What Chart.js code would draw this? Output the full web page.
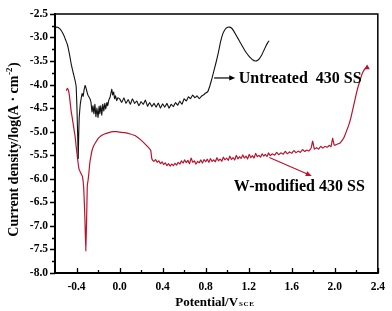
<!DOCTYPE html>
<html>
<head>
<meta charset="utf-8">
<script src="https://cdn.jsdelivr.net/npm/chart.js@4"></script>
<style>
  html, body { margin: 0; padding: 0; background: #fff; }
  canvas { display: block; }
</style>
</head>
<body>
<canvas id="chart" width="392" height="311"></canvas>
<script>
// Polarization curves (potential in V vs SCE, log current density)
const untreatedPotential = [
  -0.600, -0.585, -0.570, -0.550, -0.530, -0.513, -0.500, -0.485, -0.475, -0.467,
  -0.458, -0.449, -0.440, -0.430, -0.421, -0.412, -0.403, -0.396, -0.388, -0.384,
  -0.380, -0.375, -0.366, -0.357, -0.348, -0.339, -0.330, -0.320, -0.311, -0.302,
  -0.293, -0.275, -0.266, -0.256, -0.247, -0.238, -0.229, -0.220, -0.210, -0.200,
  -0.190, -0.183, -0.174, -0.165, -0.156, -0.146, -0.137, -0.128, -0.118, -0.110,
  -0.100, -0.090, -0.080, -0.072, -0.064, -0.055, -0.046, -0.037, -0.027, -0.015,
  0.00, 0.02, 0.04, 0.06, 0.08, 0.10, 0.12, 0.14, 0.16, 0.18,
  0.20, 0.22, 0.24, 0.26, 0.28, 0.30, 0.32, 0.34, 0.36, 0.38,
  0.40, 0.42, 0.44, 0.46, 0.48, 0.50, 0.52, 0.54, 0.56, 0.58,
  0.60, 0.62, 0.64, 0.66, 0.68, 0.70, 0.72, 0.74, 0.76, 0.78,
  0.80, 0.82, 0.84, 0.86, 0.88, 0.90, 0.92, 0.94, 0.96, 0.98,
  1.00, 1.02, 1.04, 1.06, 1.08, 1.10, 1.12, 1.14, 1.16, 1.18,
  1.20, 1.22, 1.24, 1.26, 1.28, 1.30, 1.32, 1.34, 1.36, 1.38, 1.39
];
const untreatedDensity = [
  -2.80, -2.78, -2.79, -2.83, -2.90, -2.98, -3.06, -3.15, -3.25, -3.34,
  -3.45, -3.57, -3.66, -3.76, -3.84, -3.93, -4.05, -4.50, -5.20, -5.57,
  -5.10, -4.70, -4.44, -4.30, -4.19, -4.25, -4.12, -4.02, -4.08, -4.16,
  -4.23, -4.30, -4.37, -4.58, -4.45, -4.62, -4.42, -4.68, -4.50, -4.70,
  -4.46, -4.62, -4.45, -4.65, -4.42, -4.56, -4.40, -4.52, -4.38, -4.45,
  -4.33, -4.28, -4.18, -4.10, -4.22, -4.16, -4.30, -4.24, -4.34, -4.28,
  -4.30, -4.38, -4.28, -4.40, -4.32, -4.42, -4.30, -4.40, -4.35, -4.45,
  -4.36, -4.42, -4.33, -4.46, -4.38, -4.47, -4.40, -4.48, -4.39, -4.50,
  -4.41, -4.48, -4.40, -4.50, -4.42, -4.47, -4.38, -4.44, -4.35, -4.42,
  -4.30, -4.35, -4.26, -4.30, -4.22, -4.28, -4.24, -4.30, -4.25, -4.22,
  -4.18, -4.15, -4.02, -3.86, -3.68, -3.50, -3.30, -3.08, -2.92, -2.83,
  -2.79, -2.78, -2.80, -2.86, -2.94, -3.02, -3.10, -3.18, -3.26, -3.33,
  -3.39, -3.44, -3.48, -3.50, -3.49, -3.45, -3.38, -3.28, -3.18, -3.10, -3.07
];

const modifiedPotential = [
  -0.495, -0.485, -0.475, -0.467, -0.458, -0.449, -0.440, -0.430, -0.421, -0.412,
  -0.403, -0.394, -0.385, -0.376, -0.360, -0.345, -0.333, -0.322, -0.314, -0.306,
  -0.300, -0.292, -0.284, -0.277, -0.266, -0.256, -0.240, -0.220, -0.200, -0.174,
  -0.140, -0.100, -0.060, -0.030, 0.000, 0.050, 0.100, 0.150, 0.200, 0.240,
  0.270, 0.290, 0.298, 0.305, 0.320, 0.335, 0.350, 0.365, 0.380, 0.395,
  0.410, 0.425, 0.440, 0.455, 0.470, 0.485, 0.500, 0.515, 0.530, 0.545,
  0.560, 0.575, 0.590, 0.605, 0.620, 0.635, 0.650, 0.665, 0.680, 0.695,
  0.710, 0.725, 0.740, 0.755, 0.770, 0.785, 0.800, 0.815, 0.830, 0.845,
  0.860, 0.875, 0.890, 0.905, 0.920, 0.935, 0.950, 0.965, 0.980, 0.995,
  1.010, 1.025, 1.040, 1.055, 1.070, 1.085, 1.100, 1.115, 1.130, 1.145,
  1.160, 1.175, 1.190, 1.205, 1.220, 1.235, 1.250, 1.265, 1.280, 1.295,
  1.310, 1.325, 1.340, 1.355, 1.370, 1.385, 1.400, 1.420, 1.440, 1.460,
  1.480, 1.500, 1.520, 1.540, 1.560, 1.580, 1.600, 1.620, 1.640, 1.660,
  1.680, 1.700, 1.720, 1.740, 1.760, 1.780, 1.795, 1.810, 1.830, 1.850,
  1.870, 1.890, 1.910, 1.930, 1.950, 1.965, 1.980, 1.995, 2.010, 2.030,
  2.050, 2.070, 2.090, 2.110, 2.130, 2.150, 2.170, 2.190, 2.210, 2.230,
  2.250, 2.270, 2.290, 2.300
];
const modifiedDensity = [
  -4.13, -4.08, -4.12, -4.22, -4.40, -4.58, -4.70, -4.85, -4.99, -5.12,
  -5.32, -5.50, -5.67, -5.80, -5.88, -5.95, -6.20, -6.85, -7.53, -6.85,
  -6.15, -6.02, -5.85, -5.67, -5.52, -5.40, -5.30, -5.22, -5.15, -5.09,
  -5.05, -5.02, -5.00, -5.00, -5.01, -5.02, -5.05, -5.09, -5.18, -5.27,
  -5.34, -5.40, -5.55, -5.60, -5.63, -5.59, -5.65, -5.62, -5.68, -5.64,
  -5.70, -5.66, -5.72, -5.68, -5.73, -5.69, -5.72, -5.67, -5.71, -5.65,
  -5.69, -5.62, -5.67, -5.60, -5.66, -5.61, -5.68, -5.56, -5.65, -5.62,
  -5.69, -5.63, -5.66, -5.60, -5.67, -5.59, -5.64, -5.58, -5.65, -5.57,
  -5.63, -5.60, -5.64, -5.55, -5.62, -5.58, -5.63, -5.54, -5.60, -5.56,
  -5.61, -5.52, -5.59, -5.55, -5.60, -5.50, -5.58, -5.53, -5.57, -5.49,
  -5.56, -5.52, -5.58, -5.48, -5.55, -5.51, -5.56, -5.46, -5.53, -5.50,
  -5.54, -5.47, -5.52, -5.48, -5.53, -5.45, -5.51, -5.47, -5.50, -5.44,
  -5.49, -5.45, -5.48, -5.42, -5.47, -5.43, -5.46, -5.40, -5.45, -5.41,
  -5.44, -5.38, -5.42, -5.39, -5.41, -5.35, -5.20, -5.37, -5.34, -5.37,
  -5.31, -5.35, -5.31, -5.33, -5.29, -5.32, -5.14, -5.29, -5.28, -5.26,
  -5.24, -5.18, -5.10, -4.98, -4.86, -4.70, -4.50, -4.30, -4.10, -3.95,
  -3.80, -3.70, -3.65, -3.64
];

const xTickValues = [-0.4, 0.0, 0.4, 0.8, 1.2, 1.6, 2.0, 2.4];
const yTickValues = [-8.0, -7.5, -7.0, -6.5, -6.0, -5.5, -5.0, -4.5, -4.0, -3.5, -3.0, -2.5];

const SERIF = '"Liberation Serif", "Times New Roman", serif';
const RED = '#b8142e';

function toPoints(xs, ys) {
  return xs.map((x, i) => ({ x: x, y: ys[i] }));
}

function drawArrow(ctx, x1, y1, x2, y2, color) {
  const ang = Math.atan2(y2 - y1, x2 - x1);
  const len = 6, half = 2.6;
  ctx.strokeStyle = color;
  ctx.fillStyle = color;
  ctx.lineWidth = 1.2;
  ctx.beginPath();
  ctx.moveTo(x1, y1);
  ctx.lineTo(x2 - Math.cos(ang) * len * 0.8, y2 - Math.sin(ang) * len * 0.8);
  ctx.stroke();
  ctx.beginPath();
  ctx.moveTo(x2, y2);
  ctx.lineTo(x2 - Math.cos(ang) * len - Math.sin(ang) * half, y2 - Math.sin(ang) * len + Math.cos(ang) * half);
  ctx.lineTo(x2 - Math.cos(ang) * len + Math.sin(ang) * half, y2 - Math.sin(ang) * len - Math.cos(ang) * half);
  ctx.closePath();
  ctx.fill();
}

// frame, ticks, titles and the two labels with arrows
const decorations = {
  id: 'decorations',
  afterDraw(chart) {
    const { ctx, chartArea: a, scales } = chart;
    const xs = scales.x, ys = scales.y;
    ctx.save();

    // tick marks: x inward, y outward
    ctx.strokeStyle = '#000';
    ctx.lineWidth = 1.3;
    ctx.beginPath();
    for (let v = -0.2; v < 2.4; v += 0.4) {
      const px = Math.round(xs.getPixelForValue(v)) + 0.5;
      ctx.moveTo(px, a.bottom); ctx.lineTo(px, a.bottom - 3);
    }
    xTickValues.forEach(v => {
      const px = Math.round(xs.getPixelForValue(v)) + 0.5;
      ctx.moveTo(px, a.bottom); ctx.lineTo(px, a.bottom - 5);
    });
    for (let v = -7.75; v < -2.5; v += 0.5) {
      const py = Math.round(ys.getPixelForValue(v)) + 0.5;
      ctx.moveTo(a.left, py); ctx.lineTo(a.left - 3, py);
    }
    yTickValues.forEach(v => {
      const py = Math.round(ys.getPixelForValue(v)) + 0.5;
      ctx.moveTo(a.left, py); ctx.lineTo(a.left - 5, py);
    });
    ctx.stroke();

    // frame
    ctx.lineWidth = 1.5;
    ctx.beginPath();
    ctx.moveTo(a.left, a.top); ctx.lineTo(a.right, a.top); ctx.lineTo(a.right, a.bottom);
    ctx.stroke();
    ctx.lineWidth = 2;
    ctx.beginPath();
    ctx.moveTo(a.left, a.top - 1); ctx.lineTo(a.left, a.bottom); ctx.lineTo(a.right + 1, a.bottom);
    ctx.stroke();

    // y title with superscript
    ctx.fillStyle = '#000';
    ctx.textBaseline = 'alphabetic';
    ctx.textAlign = 'left';
    const t1 = 'Current density/log(A \u00B7 cm', t2 = '-2', t3 = ')';
    ctx.font = 'bold 14px ' + SERIF;
    const w1 = ctx.measureText(t1).width, w3 = ctx.measureText(t3).width;
    ctx.font = 'bold 9px ' + SERIF;
    const w2 = ctx.measureText(t2).width;
    ctx.translate(18, 150);
    ctx.rotate(-Math.PI / 2);
    let sx = -(w1 + w2 + w3) / 2;
    ctx.font = 'bold 14px ' + SERIF;
    ctx.fillText(t1, sx, 0);
    ctx.font = 'bold 9px ' + SERIF;
    ctx.fillText(t2, sx + w1 + 0.5, -6);
    ctx.font = 'bold 14px ' + SERIF;
    ctx.fillText(t3, sx + w1 + w2 + 1, 0);
    ctx.setTransform(1, 0, 0, 1, 0, 0);

    // x title with subscript
    ctx.font = 'bold 13px ' + SERIF;
    const m1 = ctx.measureText('Potential/V').width;
    ctx.font = 'bold 7px ' + SERIF;
    ctx.letterSpacing = '0.6px';
    const m2 = ctx.measureText('SCE').width;
    const cx = (a.left + a.right) / 2 - 2;
    let tx = cx - (m1 + m2) / 2;
    ctx.letterSpacing = '0px';
    ctx.font = 'bold 13px ' + SERIF;
    ctx.fillText('Potential/V', tx, 306);
    ctx.font = 'bold 7px ' + SERIF;
    ctx.letterSpacing = '0.6px';
    ctx.fillText('SCE', tx + m1 + 1, 306);
    ctx.letterSpacing = '0px';

    // labels and arrows
    ctx.font = 'bold 16px ' + SERIF;
    ctx.textBaseline = 'middle';
    drawArrow(ctx, xs.getPixelForValue(0.879), ys.getPixelForValue(-3.86),
      xs.getPixelForValue(1.075), ys.getPixelForValue(-3.86), '#000');
    ctx.fillStyle = '#000';
    ctx.fillText('Untreated  430 SS', xs.getPixelForValue(1.108), ys.getPixelForValue(-3.86) + 1);

    drawArrow(ctx, xs.getPixelForValue(1.392), ys.getPixelForValue(-5.548),
      xs.getPixelForValue(1.786), ys.getPixelForValue(-5.94), RED);
    ctx.fillStyle = '#000';
    ctx.fillText('W-modified 430 SS', xs.getPixelForValue(1.062), ys.getPixelForValue(-6.146) + 1);

    ctx.restore();
  }
};

const ctx = document.getElementById('chart').getContext('2d');
const lastIdx = modifiedPotential.length - 1;

new Chart(ctx, {
  type: 'line',
  data: {
    datasets: [
      {
        label: 'Untreated 430 SS',
        data: toPoints(untreatedPotential, untreatedDensity),
        borderColor: '#111',
        borderWidth: 1.1,
        pointRadius: 0,
        tension: 0.1
      },
      {
        label: 'W-modified 430 SS',
        data: toPoints(modifiedPotential, modifiedDensity),
        borderColor: RED,
        borderWidth: 1.2,
        pointRadius: c => (c.dataIndex === lastIdx ? 2 : 0),
        pointStyle: 'triangle',
        pointBackgroundColor: RED,
        pointBorderColor: RED,
        tension: 0.1
      }
    ]
  },
  options: {
    responsive: false,
    animation: false,
    devicePixelRatio: 1,
    layout: { padding: { top: 6, right: 9, left: 0, bottom: 0 } },
    plugins: { legend: { display: false }, tooltip: { enabled: false } },
    scales: {
      x: {
        type: 'linear',
        min: -0.6,
        max: 2.4,
        afterBuildTicks: s => { s.ticks = xTickValues.map(v => ({ value: v })); },
        afterFit: s => { s.height = 38; },
        grid: { display: false, drawTicks: false },
        border: { display: false },
        ticks: {
          autoSkip: false,
          maxRotation: 0,
          padding: 7,
          color: '#000',
          font: { family: SERIF, size: 11.5, weight: 'bold' },
          callback: v => v.toFixed(1)
        }
      },
      y: {
        type: 'linear',
        min: -8.0,
        max: -2.5,
        afterBuildTicks: s => { s.ticks = yTickValues.map(v => ({ value: v })); },
        afterFit: s => { s.width = 55; },
        grid: { display: false, drawTicks: false },
        border: { display: false },
        ticks: {
          autoSkip: false,
          padding: 7,
          color: '#000',
          font: { family: SERIF, size: 11.5, weight: 'bold' },
          callback: v => v.toFixed(1)
        }
      }
    }
  },
  plugins: [decorations]
});
</script>
</body>
</html>
